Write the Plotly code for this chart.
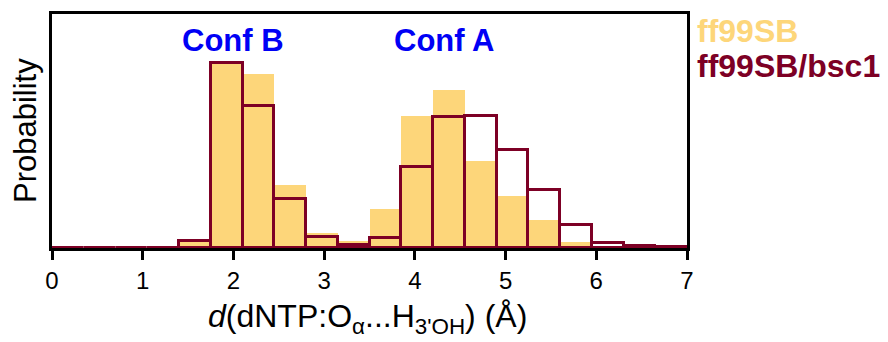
import plotly.graph_objects as go

# Bin left edges (Å), width 0.35
bin_edges = [0.0, 0.35, 0.7, 1.05, 1.4, 1.75, 2.1, 2.45, 2.8, 3.15,
             3.5, 3.85, 4.2, 4.55, 4.9, 5.25, 5.6, 5.95, 6.3, 6.65]
bin_width = 0.35

ff99sb = [0.0, 0.0, 0.0, 0.0, 0.010, 0.195, 0.184, 0.067, 0.016, 0.007,
          0.041, 0.140, 0.167, 0.092, 0.055, 0.030, 0.006, 0.002, 0.0006, 0.0004]
bsc1 = [0.0003, 0.0003, 0.0003, 0.0003, 0.007, 0.196, 0.150, 0.052, 0.012, 0.0035,
        0.0105, 0.086, 0.138, 0.140, 0.1035, 0.0615, 0.0245, 0.0053, 0.0024, 0.001]

x_ticks = [0, 1, 2, 3, 4, 5, 6, 7]

YELLOW = "#FDD67A"
MAROON = "#7D0025"
BLUE = "#0000F5"
FONT = "Liberation Sans, Arial, sans-serif"

centers = [e + bin_width / 2 for e in bin_edges]

fig = go.Figure()
fig.add_trace(go.Bar(
    x=centers, y=ff99sb, width=bin_width,
    marker=dict(color=YELLOW, line=dict(width=0)),
    name="ff99SB", showlegend=False,
))
fig.add_trace(go.Bar(
    x=centers, y=bsc1, width=bin_width,
    marker=dict(color="rgba(0,0,0,0)", line=dict(color=MAROON, width=3)),
    name="ff99SB/bsc1", showlegend=False,
))

fig.add_annotation(x=2.0, y=1.0, xref="x", yref="paper", yshift=-7,
                   text="<b>Conf B</b>", showarrow=False, yanchor="top",
                   font=dict(size=31, color=BLUE, family=FONT))
fig.add_annotation(x=4.32, y=1.0, xref="x", yref="paper", yshift=-7,
                   text="<b>Conf A</b>", showarrow=False, yanchor="top",
                   font=dict(size=31, color=BLUE, family=FONT))

fig.add_annotation(x=1.0, y=1.0, xref="paper", yref="paper", xshift=8, yshift=3,
                   text="<b>ff99SB</b>", showarrow=False, xanchor="left", yanchor="top",
                   font=dict(size=32, color=YELLOW, family=FONT))
fig.add_annotation(x=1.0, y=1.0, xref="paper", yref="paper", xshift=8, yshift=-32,
                   text="<b>ff99SB/bsc1</b>", showarrow=False, xanchor="left", yanchor="top",
                   font=dict(size=32, color=MAROON, family=FONT))

# y-axis title as rotated annotation
fig.add_annotation(x=0.0, y=0.5, xref="paper", yref="paper", xshift=-27,
                   text="Probability", textangle=-90, showarrow=False,
                   xanchor="center", yanchor="middle",
                   font=dict(size=31, color="black", family=FONT))

# x-axis title as annotation
fig.add_annotation(x=0.5, y=0.0, xref="paper", yref="paper", yshift=-70, xshift=-2,
                   text="<i>d</i>(dNTP:O<sub>α</sub>...H<sub>3'OH</sub>) (Å)",
                   showarrow=False, xanchor="center", yanchor="middle",
                   font=dict(size=32, color="black", family=FONT))

fig.update_layout(
    width=888, height=342,
    margin=dict(l=44, r=209, t=6, b=102),
    paper_bgcolor="white", plot_bgcolor="white",
    barmode="overlay", bargap=0,
    font=dict(family=FONT, color="black"),
    xaxis=dict(
        range=[0, 7], tickvals=x_ticks, ticktext=[str(t) for t in x_ticks],
        showgrid=False, zeroline=False, automargin=False,
        showline=True, linecolor="black", linewidth=3, mirror=True,
        ticks="outside", ticklen=9, tickwidth=2.5, tickcolor="black",
        tickfont=dict(size=24, family=FONT),
    ),
    yaxis=dict(
        range=[0, 0.2474], showticklabels=False, ticks="",
        showgrid=False, zeroline=False, automargin=False,
        showline=True, linecolor="black", linewidth=3, mirror=True,
    ),
)

fig.write_html("out.html")
